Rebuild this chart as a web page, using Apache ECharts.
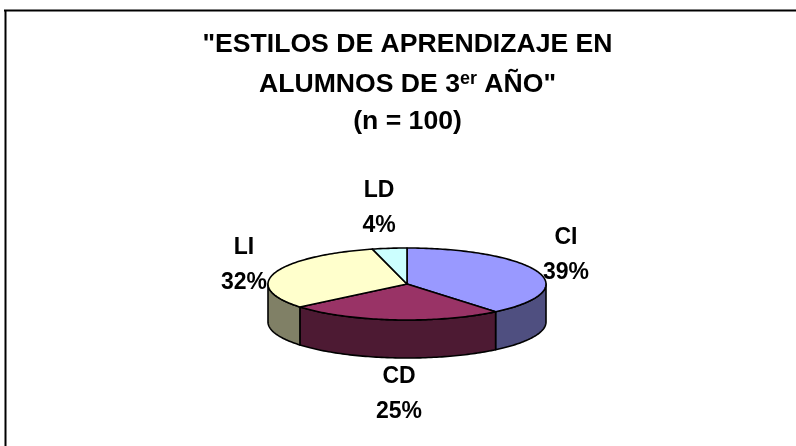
<!DOCTYPE html>
<html>
<head>
<meta charset="utf-8">
<style>
  html, body { margin: 0; padding: 0; background: #fff; }
  #chart { width: 796px; height: 446px; }
</style>
</head>
<body>
<div id="chart"></div>
<script src="https://cdn.jsdelivr.net/npm/echarts@6/dist/echarts.min.js"></script>
<script>
const categories = ['CI', 'CD', 'LI', 'LD'];
const values = [39, 25, 32, 4];
const topColors = ['#9999FF', '#993366', '#FFFFCC', '#CCFFFF'];
const sideColors = ['#4F4F80', '#4D1A33', '#808066', '#668080'];

const cx = 407, cy = 284, rx = 139, ry = 36, depth = 38;
const FONT = '"Liberation Sans", Arial, sans-serif';
const labelPos = { CI: [566, 255], CD: [399, 394], LI: [244, 265], LD: [379, 208] };

const total = values.reduce((a, b) => a + b, 0);

function rimPoint(a, dy) {
  return [cx + rx * Math.sin(a), cy + ry * -Math.cos(a) + (dy || 0)];
}
function arcPoints(a0, a1, dy) {
  const n = Math.max(2, Math.ceil((a1 - a0) / 0.02));
  const pts = [];
  for (let i = 0; i <= n; i++) pts.push(rimPoint(a0 + (a1 - a0) * i / n, dy));
  return pts;
}

function renderSlice(params, api) {
  const i = params.dataIndex;
  let before = 0;
  for (let k = 0; k < i; k++) before += values[k];
  const a0 = before / total * Math.PI * 2;
  const a1 = (before + api.value(1)) / total * Math.PI * 2;
  const line = { stroke: '#000', lineWidth: 1.6, lineJoin: 'round' };
  const children = [];

  // only the front half of the rim has a visible wall
  const w0 = Math.max(a0, Math.PI / 2), w1 = Math.min(a1, Math.PI * 1.5);
  if (w1 > w0) {
    const wall = arcPoints(w0, w1, 0).concat(arcPoints(w0, w1, depth).reverse());
    children.push({ type: 'polygon', shape: { points: wall }, style: Object.assign({ fill: sideColors[i] }, line) });
  }
  const top = [[cx, cy]].concat(arcPoints(a0, a1, 0));
  children.push({ type: 'polygon', shape: { points: top }, style: Object.assign({ fill: topColors[i] }, line) });
  return { type: 'group', children: children };
}

function renderLabel(params, api) {
  const name = categories[params.dataIndex];
  const p = labelPos[name];
  return {
    type: 'text',
    x: p[0], y: p[1],
    style: {
      text: name + '\n' + api.value(1) + '%',
      fill: '#000', font: 'bold 23px ' + FONT,
      align: 'center', verticalAlign: 'middle', lineHeight: 35
    }
  };
}

const chart = echarts.init(document.getElementById('chart'), null, { renderer: 'canvas' });
const rows = categories.map((c, i) => [c, values[i]]);

chart.setOption({
  animation: false,
  backgroundColor: '#fff',
  title: [
    { text: '"ESTILOS DE APRENDIZAJE EN', top: 45 },
    { text: 'ALUMNOS DE 3{sup|er} AÑO"', top: 85 },
    { text: '(n = 100)', top: 122 }
  ].map(t => ({
    text: t.text, left: 407.5, top: t.top, padding: 0,
    textAlign: 'center', textVerticalAlign: 'middle',
    textStyle: {
      fontFamily: FONT, fontSize: 26.6, fontWeight: 'bold', color: '#000', lineHeight: 30,
      rich: { sup: { fontFamily: FONT, fontSize: 18, fontWeight: 'bold', color: '#000', verticalAlign: 'top', lineHeight: 6 } }
    }
  })),
  graphic: [
    { type: 'line', silent: true, shape: { x1: 4, y1: 10.5, x2: 796, y2: 10.5 }, style: { stroke: '#000', lineWidth: 2 } },
    { type: 'line', silent: true, shape: { x1: 5.5, y1: 10, x2: 5.5, y2: 446 }, style: { stroke: '#000', lineWidth: 2 } }
  ],
  series: [
    { type: 'custom', coordinateSystem: 'none', renderItem: renderSlice, data: rows, silent: true, z: 2 },
    { type: 'custom', coordinateSystem: 'none', renderItem: renderLabel, data: rows, silent: true, z: 3 }
  ]
});
</script>
</body>
</html>
